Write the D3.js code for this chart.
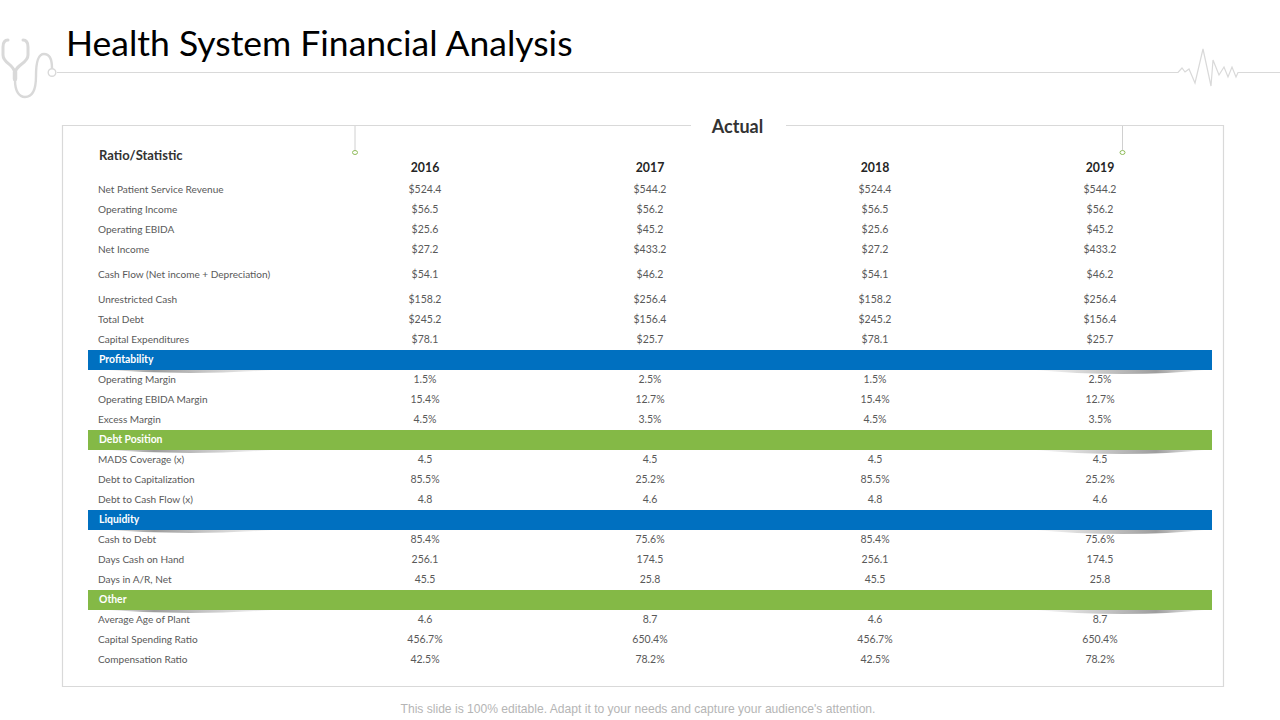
<!DOCTYPE html>
<meta charset="utf-8">
<style>
body { margin: 0; background: #fff; }
svg { display: block; }
text { font-family: Lato, sans-serif; }
.rule { fill: none; stroke: #d9d9d9; stroke-width: 1.2; }
.label { font-size: 10.05px; fill: #595959; }
.value { font-size: 10.5px; fill: #595959; text-anchor: middle; }
.section { font-size: 10.4px; font-weight: 700; fill: #fff; }
.year { font-size: 12.3px; font-weight: 700; fill: #262626; text-anchor: middle; }
</style>
<svg width="1280" height="720"></svg>
<script src="https://d3js.org/d3.v7.min.js"></script>
<script>

var years = ["2016", "2017", "2018", "2019"];

var rowLabels = [
  "Net Patient Service Revenue", "Operating Income", "Operating EBIDA", "Net Income",
  "Cash Flow (Net income + Depreciation)", "Unrestricted Cash", "Total Debt", "Capital Expenditures",
  "Profitability",
  "Operating Margin", "Operating EBIDA Margin", "Excess Margin",
  "Debt Position",
  "MADS Coverage (x)", "Debt to Capitalization", "Debt to Cash Flow (x)",
  "Liquidity",
  "Cash to Debt", "Days Cash on Hand", "Days in A/R, Net",
  "Other",
  "Average Age of Plant", "Capital Spending Ratio", "Compensation Ratio"
];

var values2016 = ["$524.4", "$56.5", "$25.6", "$27.2", "$54.1", "$158.2", "$245.2", "$78.1", null,
  "1.5%", "15.4%", "4.5%", null, "4.5", "85.5%", "4.8", null, "85.4%", "256.1", "45.5", null, "4.6", "456.7%", "42.5%"];
var values2017 = ["$544.2", "$56.2", "$45.2", "$433.2", "$46.2", "$256.4", "$156.4", "$25.7", null,
  "2.5%", "12.7%", "3.5%", null, "4.5", "25.2%", "4.6", null, "75.6%", "174.5", "25.8", null, "8.7", "650.4%", "78.2%"];
var values2018 = ["$524.4", "$56.5", "$25.6", "$27.2", "$54.1", "$158.2", "$245.2", "$78.1", null,
  "1.5%", "15.4%", "4.5%", null, "4.5", "85.5%", "4.8", null, "85.4%", "256.1", "45.5", null, "4.6", "456.7%", "42.5%"];
var values2019 = ["$544.2", "$56.2", "$45.2", "$433.2", "$46.2", "$256.4", "$156.4", "$25.7", null,
  "2.5%", "12.7%", "3.5%", null, "4.5", "25.2%", "4.6", null, "75.6%", "174.5", "25.8", null, "8.7", "650.4%", "78.2%"];

var sections = ["Profitability", "Debt Position", "Liquidity", "Other"];
var sectionColors = ["#0070c0", "#84b946", "#0070c0", "#84b946"];

var columns = [values2016, values2017, values2018, values2019];

var svg = d3.select("svg");

var x = d3.scalePoint().domain(years).range([425, 1100]);

// the cash flow row is taller than the others, so the scale has a kink around it
var y = d3.scaleLinear()
    .domain([0, 3, 4, 5, rowLabels.length - 1])
    .range([189.5, 249.5, 274.5, 299.5, 659.5]);

var defs = svg.append("defs");

function addFade(id, stops) {
  var g = defs.append("linearGradient").attr("id", id);
  stops.forEach(function(s) {
    g.append("stop").attr("offset", s[0]).attr("stop-color", "#8c8c8c").attr("stop-opacity", s[1]);
  });
}
addFade("fadeLeft", [[0, 0], [0.3, 0.85], [1, 0]]);
addFade("fadeRight", [[0, 0], [0.7, 0.85], [1, 0]]);

// header decoration
svg.append("path").attr("class", "rule")
    .attr("d", "M57,72.5H1178L1182,68L1185,72L1189,69L1195,83L1203,49L1211,86L1213,60L1219,75L1224,67L1228,77L1232,67L1236,77L1238,72.5H1280");

var scope = svg.append("g")
    .attr("fill", "none").attr("stroke", "#d9d9d9").attr("stroke-linecap", "round");
scope.append("path")
    .attr("stroke-width", 3)
    .attr("d", "M8,40C4,40 3,43 3,47V55C3,64 15,64 15,74C15,64 28,64 28,55V47C28,43 27,40 23,40");
scope.append("path")
    .attr("stroke-width", 4.5)
    .attr("d", "M15,72V79");
scope.append("path")
    .attr("stroke-width", 2.4)
    .attr("d", "M15,80C15,91 19,97 25,97C33,97 36,90 36,76C36,62 38,54 44,54C50,54 52,60 52,68");
svg.append("circle").attr("cx", 52).attr("cy", 72.5).attr("r", 3.8)
    .attr("fill", "#fff").attr("stroke", "#d9d9d9").attr("stroke-width", 1.4);

svg.append("text")
    .attr("x", 66).attr("y", 56)
    .style("font-size", "35.5px").style("fill", "#000")
    .text("Health System Financial Analysis");

// frame, open behind the "Actual" title
svg.append("path").attr("class", "rule")
    .attr("d", "M691,125.5H62.5V686.5H1223.5V125.5H786");

svg.append("text")
    .attr("x", 737.5).attr("y", 132.5).attr("text-anchor", "middle")
    .style("font-size", "18px").style("font-weight", 700).style("fill", "#333")
    .text("Actual");

[[355, 152.5], [1122.5, 152.5]].forEach(function(p) {
  svg.append("line").attr("x1", p[0]).attr("x2", p[0]).attr("y1", 126).attr("y2", p[1] - 2)
      .attr("stroke", "#d0d0d0");
  svg.append("ellipse").attr("cx", p[0]).attr("cy", p[1]).attr("rx", 2.5).attr("ry", 2)
      .attr("fill", "#fff").attr("stroke", "#8fbc5a");
});

svg.append("text")
    .attr("x", 99).attr("y", 160)
    .style("font-size", "13px").style("font-weight", 700).style("fill", "#333")
    .text("Ratio/Statistic");

svg.selectAll(".year")
  .data(years)
  .enter().append("text")
    .attr("class", "year")
    .attr("x", function(d) { return x(d); })
    .attr("y", 172)
    .text(function(d) { return d; });

// section bands with the thin shadow under both ends
var band = svg.selectAll(".band")
  .data(sections)
  .enter().append("g")
    .attr("class", "band")
    .attr("transform", function(d) { return "translate(0," + y(rowLabels.indexOf(d)) + ")"; });

band.append("path")
    .attr("d", "M100,10Q190,17 280,10Z")
    .attr("fill", "url(#fadeLeft)");
band.append("path")
    .attr("d", "M1030,10Q1125,19 1210,10Z")
    .attr("fill", "url(#fadeRight)");
band.append("rect")
    .attr("x", 88).attr("y", -9.5)
    .attr("width", 1124).attr("height", 20)
    .attr("fill", function(d, i) { return sectionColors[i]; });
band.append("text")
    .attr("class", "section")
    .attr("x", 99).attr("y", 3.5)
    .text(function(d) { return d; });

// row labels and cells
svg.selectAll(".label")
  .data(rowLabels.filter(function(d) { return sections.indexOf(d) < 0; }))
  .enter().append("text")
    .attr("class", "label")
    .attr("x", 98)
    .attr("y", function(d) { return y(rowLabels.indexOf(d)) + 3.5; })
    .text(function(d) { return d; });

columns.forEach(function(values, c) {
  svg.selectAll(".value" + c)
    .data(values.map(function(v, i) { return { v: v, i: i }; }).filter(function(d) { return d.v !== null; }))
    .enter().append("text")
      .attr("class", "value value" + c)
      .attr("x", x(years[c]))
      .attr("y", function(d) { return y(d.i) + 3.5; })
      .text(function(d) { return d.v; });
});

svg.append("text")
    .attr("x", 638).attr("y", 713).attr("text-anchor", "middle")
    .style("font-family", "'Liberation Sans', sans-serif")
    .style("font-size", "12.1px").style("fill", "#b5b5b5")
    .text("This slide is 100% editable. Adapt it to your needs and capture your audience's attention.");

</script>
